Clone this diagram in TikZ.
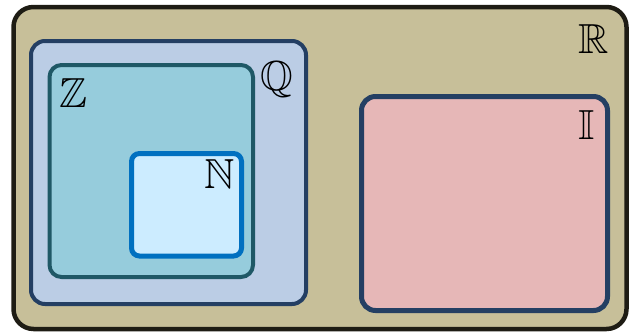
\RequirePackage{fix-cm}
\documentclass[tikz,border=0pt]{standalone}
\usepackage{amssymb}
\definecolor{realfill}{RGB}{199,191,153}
\definecolor{realedge}{RGB}{30,28,20}
\definecolor{ratfill}{RGB}{187,205,229}
\definecolor{ratedge}{RGB}{36,63,99}
\definecolor{intfill}{RGB}{150,204,220}
\definecolor{intedge}{RGB}{31,88,102}
\definecolor{natfill}{RGB}{204,236,255}
\definecolor{natedge}{RGB}{0,112,192}
\definecolor{irrfill}{RGB}{230,183,183}
\tikzset{
  setbox/.style={rectangle, inner sep=0pt, outer sep=0pt},
  setname/.style={inner sep=0pt, font=\fontsize{42}{42}\selectfont}
}
\begin{document}
\begin{tikzpicture}[x=1pt,y=-1pt]
\useasboundingbox (0,0) rectangle (636,332);
% reals
\node[setbox, draw=realedge, fill=realfill, line width=4.5pt, rounded corners=20pt,
      minimum width=613pt, minimum height=322pt] (R) at (320,168) {};
% rationals
\node[setbox, draw=ratedge, fill=ratfill, line width=4pt, rounded corners=14pt,
      minimum width=275pt, minimum height=263pt] (Q) at (168.5,172.5) {};
% integers
\node[setbox, draw=intedge, fill=intfill, line width=4pt, rounded corners=12pt,
      minimum width=203.5pt, minimum height=212pt] (Z) at (151.25,171) {};
% naturals
\node[setbox, draw=natedge, fill=natfill, line width=5pt, rounded corners=8pt,
      minimum width=110pt, minimum height=102.5pt] (N) at (186.5,204.75) {};
% irrationals
\node[setbox, draw=ratedge, fill=irrfill, line width=5pt, rounded corners=14pt,
      minimum width=246pt, minimum height=214pt] (I) at (484.5,203.5) {};
% set names
\node[setname] (Rlab) at (594,39) {$\mathbb{R}$};
\node[setname] (Qlab) at (276.5,80) {$\mathbb{Q}$};
\node[setname] (Zlab) at (73.5,93.5) {$\mathbb{Z}$};
\node[setname] (Nlab) at (220,174.5) {$\mathbb{N}$};
\node[setname] (Ilab) at (587,125) {$\mathbb{I}$};
\end{tikzpicture}
\end{document}
